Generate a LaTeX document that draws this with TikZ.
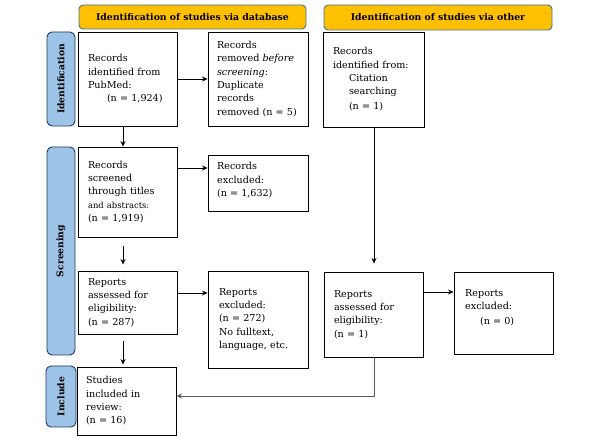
\documentclass[tikz,border=0pt]{standalone}
\usepackage{fontspec}
\setmainfont{DejaVu Serif}
\usetikzlibrary{arrows.meta}
\definecolor{gold}{HTML}{FFC000}
\definecolor{goldedge}{HTML}{41719C}
\definecolor{sideblue}{HTML}{9DC3E6}
\definecolor{sideedge}{HTML}{1F3864}
\definecolor{linegray}{HTML}{5A5A5A}
\tikzset{
  box/.style={draw=black, line width=0.9pt, inner ysep=2pt, align=left,
    font=\fontsize{9.6}{13.3}\selectfont},
  txt/.style={inner sep=0pt, align=left, anchor=north west,
    font=\fontsize{9.6}{13.3}\selectfont},
  header/.style={draw=goldedge, fill=gold, line width=0.9pt, rounded corners=4pt,
    font=\bfseries\fontsize{9.3}{10}\selectfont, inner sep=0pt},
  side/.style={draw=sideedge, fill=sideblue, line width=0.9pt, rounded corners=5pt,
    rotate=90, font=\bfseries\fontsize{9.2}{10}\selectfont, inner sep=0pt},
  arr/.style={-{Stealth[length=5.5pt,width=5pt]}, line width=0.8pt, black},
}
\begin{document}
\begin{tikzpicture}[x=1pt,y=-1pt]
\useasboundingbox (0,0) rectangle (595,443);
% headers
\node[header, minimum width=227pt, minimum height=24pt] (h1) at (192.5,17) {Identification of studies via database};
\node[header, minimum width=228pt, minimum height=25pt] (h2) at (438,17.5) {Identification of studies via other};
% side labels
\node[side, minimum width=94pt, minimum height=28pt] (sI) at (61,79) {Identification};
\node[side, minimum width=208pt, minimum height=28pt] (sS) at (61,251) {Screening};
\node[side, minimum width=61pt, minimum height=30pt] (sN) at (61,396.5) {Include};
% boxes
\node[box, minimum width=99pt, minimum height=94pt, text width=79pt, inner xsep=10pt] (b1) at (127.5,79)
  {Records\\identified from\\PubMed:\\\hspace*{19pt}(n = 1,924)};
\node[box, minimum width=100pt, minimum height=94pt, text width=82pt, inner xsep=9pt] (b2) at (258,79)
  {Records\\removed \textit{before}\\\textit{screening}:\\Duplicate\\records\\removed (n = 5)};
\node[box, minimum width=101pt, minimum height=95pt, text width=81pt, inner xsep=10pt] (b3) at (373.5,79.5)
  {Records\\identified from:\\\hspace*{16pt}Citation\\\hspace*{16pt}searching\\[2pt]\hspace*{16pt}(n = 1)};
\node[box, minimum width=99pt, minimum height=90pt, text width=79pt, inner xsep=10pt] (b4) at (127.5,192)
  {Records\\screened\\through titles\\{\fontsize{8.4}{13.3}\selectfont and abstracts:}\\(n = 1,919)};
\node[box, minimum width=100pt, minimum height=56pt] (b5) at (258,183) {};
\node[txt] (t5) at (217,162.5) {Records\\excluded:\\(n = 1,632)};
\node[box, minimum width=99pt, minimum height=63pt, text width=79pt, inner xsep=10pt] (b6) at (127.5,302.5)
  {Reports\\assessed for\\eligibility:\\(n = 287)};
\node[box, minimum width=100pt, minimum height=97pt, text width=78pt, inner xsep=11pt] (b7) at (258,319.5)
  {Reports\\excluded:\\(n = 272)\\No fulltext,\\language, etc.};
\node[box, minimum width=99pt, minimum height=68pt, text width=81pt, inner xsep=9pt] (b8) at (126.5,401)
  {Studies\\included in\\review:\\(n = 16)};
\node[box, minimum width=99pt, minimum height=85pt, text width=79pt, inner xsep=10pt] (b9) at (373.5,314.5)
  {Reports\\assessed for\\eligibility:\\(n = 1)};
\node[box, minimum width=99pt, minimum height=82pt] (b10) at (503.5,313) {};
\node[txt] (t10) at (465,289.5) {Reports\\excluded:\\[1.5pt]\hspace*{15pt}(n = 0)};
% connectors
\draw[arr] (b1.east |- 0,79) -- (b2.west |- 0,79);
\draw[arr] (b1.south -| 123,0) -- (b4.north -| 123,0);
\draw[arr] (b4.east |- 0,168) -- (b5.west |- 0,168);
\draw[arr, shorten <=9pt, shorten >=6pt] (b4.south -| 123,0) -- (b6.north -| 123,0);
\draw[arr] (b6.east |- 0,293) -- (b7.west |- 0,293);
\draw[arr, shorten <=7pt, shorten >=2pt] (b6.south -| 123,0) -- (b8.north -| 123,0);
\draw[arr, shorten >=8pt] (b3.south -| 374,0) -- (b9.north -| 374,0);
\draw[arr] (b9.east |- 0,292) -- (b10.west |- 0,292);
\draw[-{Stealth[length=5.5pt,width=5pt]}, line width=0.9pt, linegray] (b9.south -| 374,0) |- (b8.east |- 0,396);
\end{tikzpicture}
\end{document}
